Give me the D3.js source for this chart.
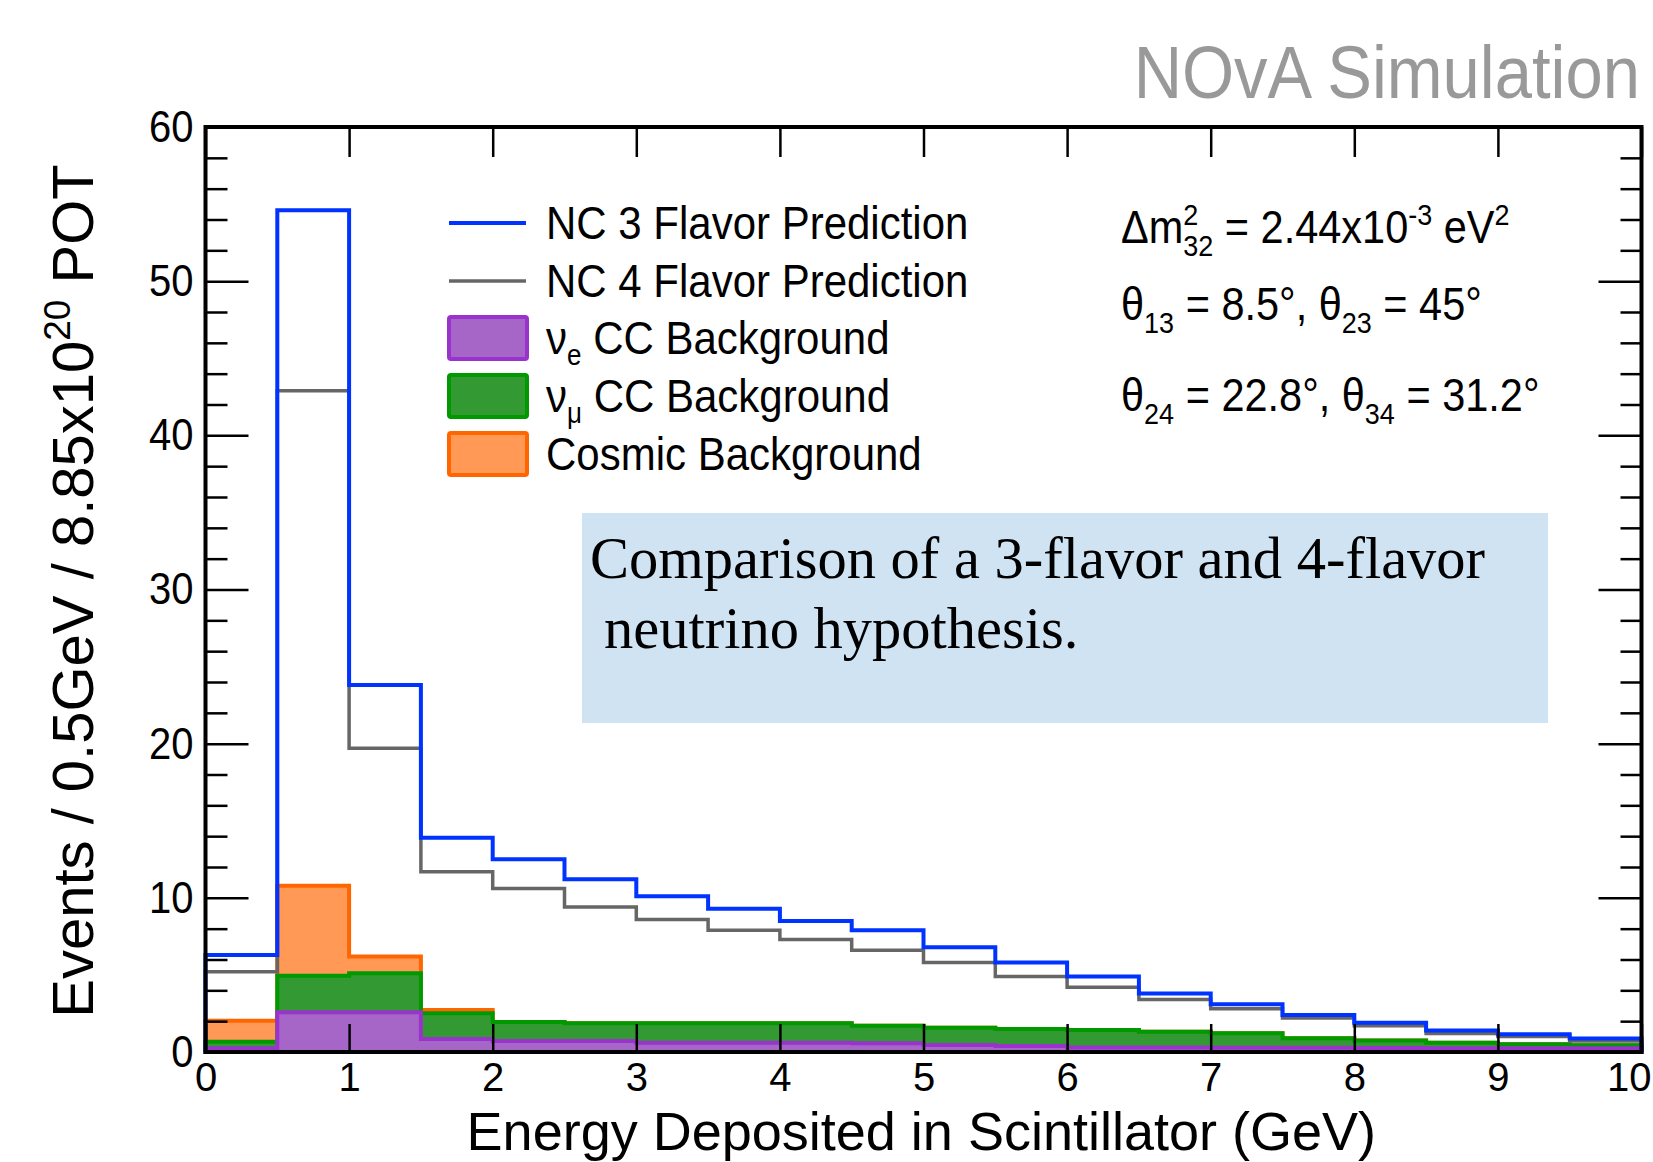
<!DOCTYPE html>
<html>
<head>
<meta charset="utf-8">
<script src="https://cdn.jsdelivr.net/npm/d3@7"></script>
<style>
  html, body { margin: 0; padding: 0; background: #fff; }
  svg { display: block; }
  text { font-family: "Liberation Sans", Arial, Helvetica, sans-serif; }
</style>
</head>
<body>
<svg id="chart" width="1653" height="1162"></svg>
<script>
// Lower edges of the 0.5 GeV energy bins
const binLow = [0, 0.5, 1, 1.5, 2, 2.5, 3, 3.5, 4, 4.5, 5, 5.5, 6, 6.5, 7, 7.5, 8, 8.5, 9, 9.5];
const binWidth = 0.5;

// NC predictions (events per bin)
const nc3Flavor = [6.3, 54.6, 23.8, 13.9, 12.5, 11.2, 10.1, 9.3, 8.5, 7.9, 6.8, 5.8, 4.9, 3.8, 3.1, 2.4, 1.9, 1.4, 1.15, 0.87];
const nc4Flavor = [5.2, 42.9, 19.7, 11.7, 10.6, 9.4, 8.6, 7.9, 7.3, 6.6, 5.8, 4.9, 4.2, 3.4, 2.8, 2.2, 1.7, 1.2, 1.0, 0.72];

// Stacked backgrounds (events per bin, each component on its own)
const nueCC   = [0.24, 2.58, 2.58, 0.84, 0.71, 0.71, 0.6, 0.6, 0.6, 0.56, 0.45, 0.39, 0.3, 0.3, 0.28, 0.28, 0.26, 0.25, 0.25, 0.24];
const numuCC  = [0.43, 2.36, 2.53, 1.67, 1.24, 1.15, 1.26, 1.26, 1.26, 1.15, 1.13, 1.1, 1.13, 1.02, 0.93, 0.61, 0.48, 0.35, 0.25, 0.19];
const cosmic  = [1.36, 5.84, 1.08, 0.22, 0, 0, 0, 0, 0, 0, 0, 0, 0, 0, 0, 0, 0, 0, 0, 0];

// Axis ticks
const xTicks = [0, 1, 2, 3, 4, 5, 6, 7, 8, 9, 10];
const yMajor = [0, 10, 20, 30, 40, 50, 60];
const yMinor = [2, 4, 6, 8, 12, 14, 16, 18, 22, 24, 26, 28, 32, 34, 36, 38, 42, 44, 46, 48, 52, 54, 56, 58];

// Glyphs are drawn slightly tall, as in the ROOT-style canvas
const SY = 1.12;

const svg = d3.select("#chart");
const x = d3.scaleLinear().domain([0, 10]).range([205.5, 1641.5]);
const y = d3.scaleLinear().domain([0, 60]).range([1052, 127]);

function at(px, py, sy = SY) { return `translate(${px},${py}) scale(1,${sy})`; }

// Step outline of a histogram, closed down to zero at both ends
function histPoints(values) {
  const pts = [[binLow[0], 0]];
  values.forEach((v, i) => {
    pts.push([binLow[i], v]);
    pts.push([binLow[i] + binWidth, v]);
  });
  pts.push([binLow[binLow.length - 1] + binWidth, 0]);
  return pts;
}
const histLine = d3.line().x(d => x(d[0])).y(d => y(d[1]));

// Background stack
const rows = binLow.map((b, i) => ({ nue: nueCC[i], numu: numuCC[i], cosmic: cosmic[i] }));
const stack = d3.stack().keys(["nue", "numu", "cosmic"])(rows);
const stackStyle = {
  nue:    { fill: "#a666c8", stroke: "#9933cc" },
  numu:   { fill: "#339933", stroke: "#009900" },
  cosmic: { fill: "#ff9955", stroke: "#ff6600" }
};

const plot = svg.append("g");
// draw the totals first so each lower component covers the one above
stack.slice().reverse().forEach(layer => {
  const tops = layer.map(d => d[1]);
  const st = stackStyle[layer.key];
  plot.append("path")
    .attr("d", histLine(histPoints(tops)) + "Z")
    .attr("fill", st.fill)
    .attr("stroke", st.stroke)
    .attr("stroke-width", 4)
    .attr("stroke-linejoin", "miter");
});

plot.append("path")
  .attr("d", histLine(histPoints(nc4Flavor)))
  .attr("fill", "none").attr("stroke", "#666666").attr("stroke-width", 3.5);
plot.append("path")
  .attr("d", histLine(histPoints(nc3Flavor)))
  .attr("fill", "none").attr("stroke", "#0033ff").attr("stroke-width", 4);

// Axes and frame
function styleAxis(g, sy = SY) {
  g.select(".domain").remove();
  g.selectAll(".tick line").attr("stroke", "#000").attr("stroke-width", 2.5);
  g.selectAll(".tick text").attr("fill", "#000").attr("font-size", 40)
    .attr("font-family", "'Liberation Sans', Arial, Helvetica, sans-serif")
    .attr("transform", `scale(1,${sy})`);
}

const xAxisG = svg.append("g").attr("transform", `translate(0,${y(0)})`)
  .call(d3.axisBottom(x).tickValues(xTicks).tickFormat(d3.format("d")).tickSize(-28).tickPadding(11))
  .call(g => styleAxis(g, 1));
// the last label sits against the canvas edge
xAxisG.selectAll(".tick text").filter(d => d === 10)
  .attr("text-anchor", "end").attr("x", 1651 - x(10));

svg.append("g").attr("transform", `translate(0,${y(60)})`)
  .call(d3.axisTop(x).tickValues(xTicks).tickFormat("").tickSize(-30))
  .call(styleAxis);

svg.append("g").attr("transform", `translate(${x(0)},0)`)
  .call(d3.axisLeft(y).tickValues(yMajor).tickFormat(d3.format("d")).tickSize(-43).tickPadding(12))
  .call(styleAxis);
svg.append("g").attr("transform", `translate(${x(0)},0)`)
  .call(d3.axisLeft(y).tickValues(yMinor).tickFormat("").tickSize(-22))
  .call(styleAxis);
svg.append("g").attr("transform", `translate(${x(10)},0)`)
  .call(d3.axisRight(y).tickValues(yMajor).tickFormat("").tickSize(-43))
  .call(styleAxis);
svg.append("g").attr("transform", `translate(${x(10)},0)`)
  .call(d3.axisRight(y).tickValues(yMinor).tickFormat("").tickSize(-21))
  .call(styleAxis);

svg.append("rect")
  .attr("x", x(0)).attr("y", y(60))
  .attr("width", x(10) - x(0)).attr("height", y(0) - y(60))
  .attr("fill", "none").attr("stroke", "#000").attr("stroke-width", 4);

// Axis titles
svg.append("text")
  .attr("x", 1376).attr("y", 1150)
  .attr("text-anchor", "end")
  .attr("font-size", 54)
  .attr("fill", "#000")
  .text("Energy Deposited in Scintillator (GeV)");

const yTitle = svg.append("text")
  .attr("transform", "translate(93,591) rotate(-90)")
  .attr("text-anchor", "middle")
  .attr("font-size", 58)
  .attr("fill", "#000");
yTitle.append("tspan").text("Events / 0.5GeV / 8.85x10");
yTitle.append("tspan").attr("dy", -23).attr("font-size", 37).text("20");
yTitle.append("tspan").attr("dy", 23).text(" POT");

// Header
svg.append("text")
  .attr("transform", at(1640, 98))
  .attr("text-anchor", "end")
  .attr("font-size", 67)
  .attr("fill", "#999999")
  .text("NOvA Simulation");

// Legend
const legendLines = [
  { label: "NC 3 Flavor Prediction", color: "#0033ff", width: 4, y: 223 },
  { label: "NC 4 Flavor Prediction", color: "#666666", width: 3.5, y: 281 }
];
const legend = svg.append("g");
legendLines.forEach(d => {
  legend.append("line")
    .attr("x1", 449).attr("x2", 526).attr("y1", d.y).attr("y2", d.y)
    .attr("stroke", d.color).attr("stroke-width", d.width);
  legend.append("text")
    .attr("transform", at(546, d.y + 16))
    .attr("font-size", 42).attr("fill", "#000")
    .text(d.label);
});
const legendBoxes = [
  { key: "nue",    main: "ν", sub: "e", rest: " CC Background", y: 317 },
  { key: "numu",   main: "ν", sub: "μ", rest: " CC Background", y: 375 },
  { key: "cosmic", main: "Cosmic Background", sub: null, rest: "", y: 433 }
];
legendBoxes.forEach(d => {
  const st = stackStyle[d.key];
  legend.append("rect")
    .attr("x", 449).attr("y", d.y).attr("width", 78).attr("height", 42)
    .attr("rx", 2)
    .attr("fill", st.fill).attr("stroke", st.stroke).attr("stroke-width", 4);
  const t = legend.append("text")
    .attr("transform", at(546, d.y + 37))
    .attr("font-size", 42).attr("fill", "#000");
  t.append("tspan").text(d.main);
  if (d.sub) {
    t.append("tspan").attr("dy", 10).attr("font-size", 26).text(d.sub);
    t.append("tspan").attr("dy", -10).text(d.rest);
  }
});

// Oscillation parameters
const params = svg.append("g").attr("font-size", 41.5).attr("fill", "#000");
const p1 = params.append("text").attr("transform", at(1121, 243));
p1.append("tspan").text("Δm");
p1.append("tspan").attr("dy", -16).attr("font-size", 27).text("2");
p1.append("tspan").attr("dx", -15).attr("dy", 28).attr("font-size", 27).text("32");
p1.append("tspan").attr("dy", -12).text(" = 2.44x10");
p1.append("tspan").attr("dy", -16).attr("font-size", 27).text("-3");
p1.append("tspan").attr("dy", 16).text(" eV");
p1.append("tspan").attr("dy", -16).attr("font-size", 27).text("2");

function thetaLine(yPos, a, va, b, vb) {
  const t = params.append("text").attr("transform", at(1121, yPos));
  t.append("tspan").text("θ");
  t.append("tspan").attr("dy", 12).attr("font-size", 27).text(a);
  t.append("tspan").attr("dy", -12).text(` = ${va}, θ`);
  t.append("tspan").attr("dy", 12).attr("font-size", 27).text(b);
  t.append("tspan").attr("dy", -12).text(` = ${vb}`);
}
thetaLine(320, "13", "8.5°", "23", "45°");
thetaLine(411, "24", "22.8°", "34", "31.2°");

// Caption box
svg.append("rect")
  .attr("x", 582).attr("y", 513).attr("width", 966).attr("height", 210)
  .attr("fill", "#cfe3f3");
const cap = svg.append("g").attr("font-size", 58.5).attr("fill", "#000");
cap.append("text").attr("x", 590).attr("y", 578)
  .style("font-family", "'Liberation Serif', 'Times New Roman', serif")
  .text("Comparison of a 3-flavor and 4-flavor");
cap.append("text").attr("x", 604).attr("y", 648)
  .style("font-family", "'Liberation Serif', 'Times New Roman', serif")
  .text("neutrino hypothesis.");
</script>
</body>
</html>
